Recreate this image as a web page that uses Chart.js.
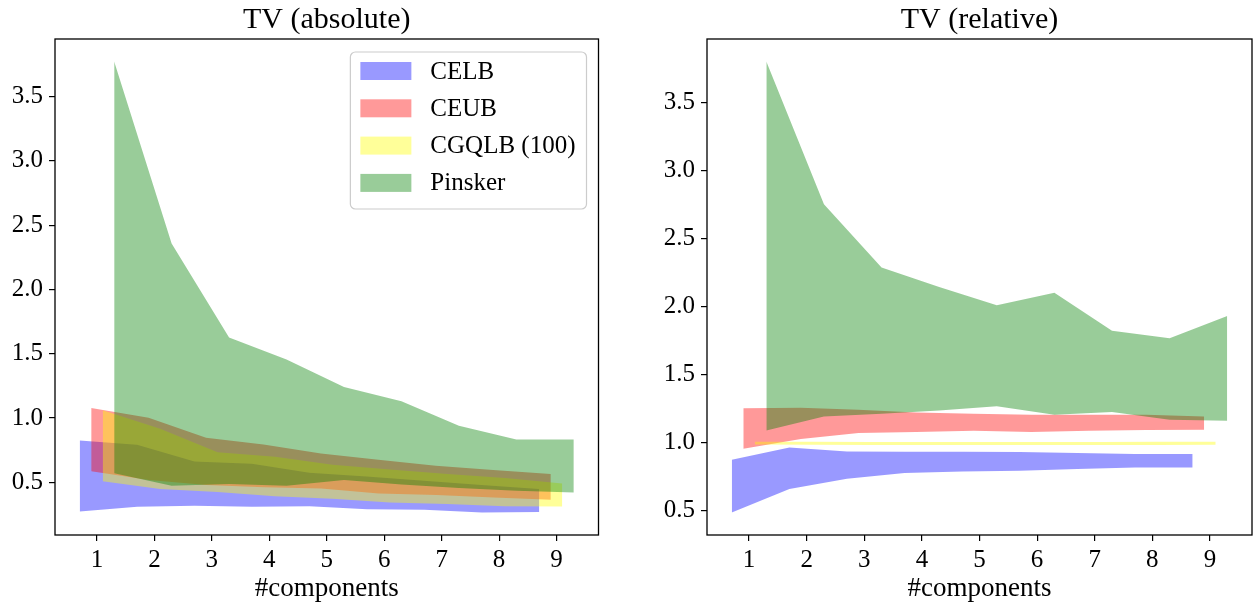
<!DOCTYPE html>
<html lang="en">
<head>
<meta charset="UTF-8">
<title>TV bounds</title>
<script src="https://cdn.jsdelivr.net/npm/chart.js@4.4.0/dist/chart.umd.min.js"></script>
<style>
  body { margin: 0; background: #fff; }
  .panel { position: absolute; top: 0; width: 627px; height: 609px; }
</style>
</head>
<body>
<div class="panel" style="left:0"><canvas id="absChart"></canvas></div>
<div class="panel" style="left:627px"><canvas id="relChart"></canvas></div>

<script>
// number of components, and the small shift each method gets on the x axis
const components = [1, 2, 3, 4, 5, 6, 7, 8, 9];
const methods = ['CELB', 'CEUB', 'CGQLB (100)', 'Pinsker'];
const shifts = [-0.3, -0.1, 0.1, 0.3];
const colors = ['rgba(0,0,255,0.4)', 'rgba(255,0,0,0.4)', 'rgba(255,255,0,0.4)', 'rgba(0,128,0,0.4)'];
const xTicks = [1, 2, 3, 4, 5, 6, 7, 8, 9];
const yTicks = [0.5, 1.0, 1.5, 2.0, 2.5, 3.0, 3.5];

// TV (absolute): min / max band per method
const absCelbLow = [0.273, 0.31, 0.318, 0.31, 0.315, 0.29, 0.287, 0.266, 0.27];
const absCelbHigh = [0.826, 0.792, 0.662, 0.645, 0.575, 0.545, 0.513, 0.479, 0.448];
const absCeubLow = [0.586, 0.519, 0.48, 0.462, 0.452, 0.414, 0.401, 0.383, 0.365];
const absCeubHigh = [1.078, 1.003, 0.847, 0.794, 0.724, 0.675, 0.63, 0.597, 0.565];
const absCgqlbLow = [0.508, 0.448, 0.425, 0.393, 0.372, 0.344, 0.331, 0.315, 0.313];
const absCgqlbHigh = [1.06, 0.917, 0.734, 0.70, 0.638, 0.6, 0.565, 0.534, 0.492];
const absPinskerLow = [0.570, 0.474, 0.487, 0.474, 0.518, 0.484, 0.456, 0.435, 0.422];
const absPinskerHigh = [3.773, 2.358, 1.627, 1.455, 1.242, 1.13, 0.94, 0.833, 0.833];

// TV (relative)
const relCelbLow = [0.485, 0.657, 0.733, 0.775, 0.787, 0.792, 0.804, 0.816, 0.816];
const relCelbHigh = [0.873, 0.963, 0.934, 0.931, 0.932, 0.929, 0.922, 0.914, 0.914];
const relCeubLow = [0.953, 1.025, 1.069, 1.076, 1.085, 1.076, 1.086, 1.091, 1.093];
const relCeubHigh = [1.252, 1.255, 1.24, 1.22, 1.21, 1.203, 1.203, 1.203, 1.19];
const relCgqlbLow = [0.985, 0.982, 0.98, 0.98, 0.98, 0.98, 0.98, 0.981, 0.982];
const relCgqlbHigh = [1.005, 1.004, 1.003, 1.003, 1.003, 1.003, 1.003, 1.004, 1.004];
const relPinskerLow = [1.088, 1.191, 1.21, 1.235, 1.265, 1.203, 1.223, 1.167, 1.159];
const relPinskerHigh = [3.8, 2.751, 2.286, 2.143, 2.009, 2.1, 1.82, 1.766, 1.929];

const FONT = "'Liberation Serif', 'Times New Roman', serif";

// matplotlib-like 5% margins
function padded(values) {
  const lo = Math.min(...values), hi = Math.max(...values);
  const m = (hi - lo) * 0.05;
  return [lo - m, hi + m];
}

function buildDatasets(lows, highs) {
  const sets = [];
  methods.forEach((name, i) => {
    const pts = arr => arr.map((v, k) => ({ x: components[k] + shifts[i], y: v }));
    const common = { borderWidth: 0, borderColor: 'rgba(0,0,0,0)', pointRadius: 0, tension: 0, order: methods.length - 1 - i };
    sets.push({ ...common, label: name + ' low', data: pts(lows[i]), fill: false });
    sets.push({ ...common, label: name, data: pts(highs[i]), fill: '-1', backgroundColor: colors[i] });
  });
  return sets;
}

// box around the plot area
const framePlugin = {
  id: 'frame',
  afterDraw(chart) {
    const { ctx, chartArea: a } = chart;
    ctx.save();
    ctx.strokeStyle = '#000';
    ctx.lineWidth = 1.3;
    ctx.strokeRect(a.left, a.top, a.right - a.left, a.bottom - a.top);
    ctx.restore();
  }
};

// legend inside the axes, upper right
const boxLegend = {
  id: 'boxLegend',
  afterDraw(chart, args, opts) {
    if (!opts.show) return;
    const { ctx, chartArea: a } = chart;
    ctx.save();
    ctx.font = '25px ' + FONT;
    const textW = Math.max(...methods.map(m => ctx.measureText(m).width));
    const w = 10 + 51 + 19 + textW + 11, h = 157;
    const x = a.right - 12 - w, y = a.top + 13;
    ctx.beginPath();
    ctx.roundRect(x, y, w, h, 5);
    ctx.fillStyle = 'rgba(255,255,255,0.8)';
    ctx.fill();
    ctx.strokeStyle = '#cccccc';
    ctx.lineWidth = 1.2;
    ctx.stroke();
    methods.forEach((m, i) => {
      const cy = y + 19 + i * 37.3;
      ctx.fillStyle = colors[i];
      ctx.fillRect(x + 10, cy - 9, 51, 18);
      ctx.fillStyle = '#000';
      ctx.textBaseline = 'middle';
      ctx.fillText(m, x + 80, cy + 1);
    });
    ctx.restore();
  }
};

function makeChart(id, title, lows, highs, yWidth, padRight, legend) {
  const [ymin, ymax] = padded(lows.flat().concat(highs.flat()));
  const xs = shifts.flatMap(s => components.map(c => c + s));
  const [xmin, xmax] = padded(xs);
  return new Chart(document.getElementById(id), {
    type: 'line',
    data: { datasets: buildDatasets(lows, highs) },
    plugins: [framePlugin, boxLegend],
    options: {
      responsive: true,
      maintainAspectRatio: false,
      animation: false,
      events: [],
      layout: { padding: { left: 0, right: padRight, top: 0, bottom: 0 } },
      plugins: {
        legend: { display: false },
        tooltip: { enabled: false },
        title: {
          display: true, text: title, fullSize: false, color: '#000',
          font: { family: FONT, size: 30, weight: 'normal' },
          padding: { top: 2, bottom: 1 }
        },
        boxLegend: { show: legend }
      },
      scales: {
        x: {
          type: 'linear', min: xmin, max: xmax,
          afterBuildTicks: s => { s.ticks = xTicks.map(v => ({ value: v })); },
          afterFit: s => { s.height = 74; },
          grid: { display: true, drawOnChartArea: false, drawTicks: true, tickLength: 6, color: '#000', lineWidth: 1.2 },
          border: { display: false },
          ticks: { color: '#000', font: { family: FONT, size: 25 }, padding: 4, maxRotation: 0 },
          title: { display: true, text: '#components', color: '#000', font: { family: FONT, size: 27 }, padding: { top: 0, bottom: 4 } }
        },
        y: {
          type: 'linear', min: ymin, max: ymax,
          afterBuildTicks: s => { s.ticks = yTicks.map(v => ({ value: v })); },
          afterFit: s => { s.width = yWidth; },
          grid: { display: true, drawOnChartArea: false, drawTicks: true, tickLength: 6, color: '#000', lineWidth: 1.2 },
          border: { display: false },
          ticks: { color: '#000', font: { family: FONT, size: 25 }, padding: 6, callback: v => v.toFixed(1) }
        }
      }
    }
  });
}

makeChart('absChart', 'TV (absolute)',
  [absCelbLow, absCeubLow, absCgqlbLow, absPinskerLow],
  [absCelbHigh, absCeubHigh, absCgqlbHigh, absPinskerHigh], 55, 28.5, true);

makeChart('relChart', 'TV (relative)',
  [relCelbLow, relCeubLow, relCgqlbLow, relPinskerLow],
  [relCelbHigh, relCeubHigh, relCgqlbHigh, relPinskerHigh], 80, 2, false);
</script>
</body>
</html>
